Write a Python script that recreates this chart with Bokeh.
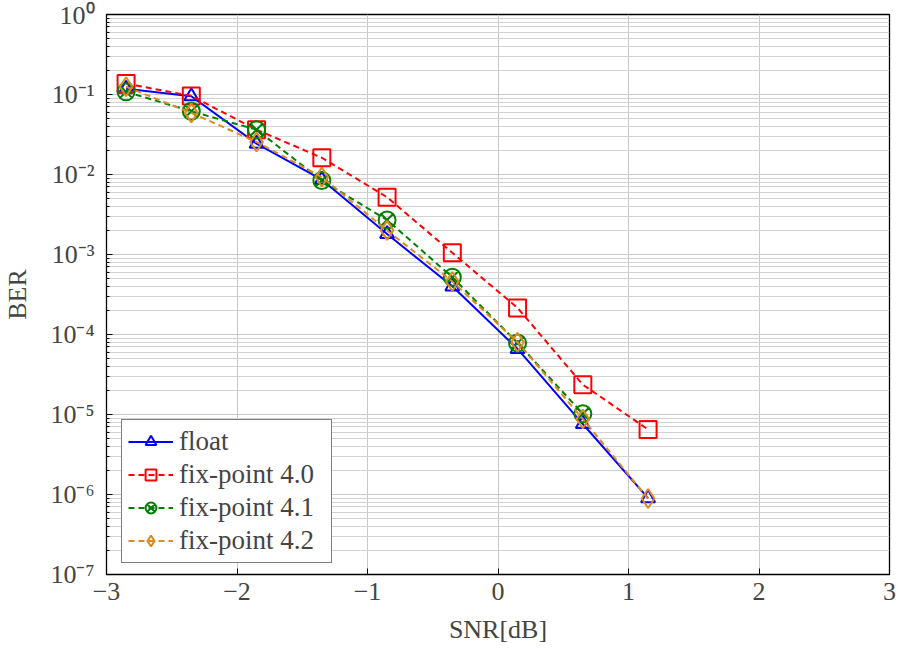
from bokeh.plotting import figure
from bokeh.models import Range1d, FixedTicker, Legend, LegendItem
from bokeh.embed import file_html
from bokeh.resources import INLINE

snr = [-2.85, -2.35, -1.85, -1.35, -0.85, -0.35, 0.15, 0.65, 1.15]
ber_float = [0.118, 0.095, 0.0243, 0.0086, 0.0018, 4.0e-4, 6.6e-5, 7.6e-6, 9.0e-7]
ber_fix40 = [0.137, 0.096, 0.0363, 0.0162, 0.0052, 1.05e-3, 2.15e-4, 2.36e-5, 6.5e-6]
snr_fix41 = [-2.85, -2.35, -1.85, -1.35, -0.85, -0.35, 0.15, 0.65]
ber_fix41 = [0.108, 0.0617, 0.0363, 0.0084, 0.0027, 5.2e-4, 7.85e-5, 1.02e-5]
ber_fix42 = [0.125, 0.059, 0.0255, 0.0093, 0.0020, 4.6e-4, 8.0e-5, 8.8e-6, 8.9e-7]

x_ticks = [-3, -2, -1, 0, 1, 2, 3]
x_labels = ["\u22123", "\u22122", "\u22121", "0", "1", "2", "3"]
y_exps = [0, -1, -2, -3, -4, -5, -6, -7]
sup = str.maketrans("0123456789-", "\u2070\u00b9\u00b2\u00b3\u2074\u2075\u2076\u2077\u2078\u2079\u207b")

FONT = "Liberation Serif"
FS = "26px"

y_ticks = [10.0 ** e for e in y_exps]
y_minor = [k * 10.0 ** e for e in range(-7, 0) for k in range(2, 10)]
y_labels = {10.0 ** e: "10" + str(e).translate(sup) for e in y_exps}

p = figure(width=897, height=647, output_backend="svg", toolbar_location=None,
           y_axis_type="log", x_range=Range1d(-3, 3), y_range=Range1d(1e-7, 1),
           min_border_left=104, min_border_right=8, min_border_top=14, min_border_bottom=73)
p.outline_line_color = "black"
p.outline_line_width = 1.3

xt = FixedTicker(ticks=x_ticks, minor_ticks=[])
yt = FixedTicker(ticks=y_ticks, minor_ticks=y_minor)

xa = p.xaxis[0]
ya = p.yaxis[0]
xa.ticker = xt
ya.ticker = yt
xa.major_label_overrides = {t: l for t, l in zip(x_ticks, x_labels)}
ya.major_label_overrides = y_labels
for ax in (xa, ya):
    ax.major_label_text_font = FONT
    ax.major_label_text_font_size = FS
    ax.axis_label_text_font = FONT
    ax.axis_label_text_font_size = FS
    ax.axis_label_text_font_style = "normal"
    ax.major_tick_in = 6
    ax.major_tick_out = 0
    ax.minor_tick_in = 3
    ax.minor_tick_out = 0
    ax.axis_line_color = None
    ax.major_tick_line_color = "black"
    ax.minor_tick_line_color = "black"
xa.axis_label = "SNR[dB]"
ya.axis_label = "BER"
xa.major_label_standoff = 8
ya.major_label_standoff = 12
xa.axis_label_standoff = 12
ya.axis_label_standoff = 15

p.xgrid.grid_line_color = "#c8c8c8"
p.ygrid.grid_line_color = "#c8c8c8"
p.ygrid.minor_grid_line_color = "#d2d2d2"

BLUE, RED, GREEN, ORANGE = "#0000ff", "#ff0000", "#008000", "#dc8a1e"

l1 = p.line(snr, ber_float, line_color=BLUE, line_width=2)
m1 = p.scatter(snr, ber_float, marker="triangle", size=14, line_color=BLUE, fill_color=None, line_width=2)
l2 = p.line(snr, ber_fix40, line_color=RED, line_width=2, line_dash="6 4")
m2 = p.scatter(snr, ber_fix40, marker="square", size=17, line_color=RED, fill_color=None, line_width=2)
l3 = p.line(snr_fix41, ber_fix41, line_color=GREEN, line_width=2, line_dash="6 4")
m3 = p.scatter(snr_fix41, ber_fix41, marker="circle_x", size=17, line_color=GREEN, fill_color=None, line_width=2)
l4 = p.line(snr, ber_fix42, line_color=ORANGE, line_width=2, line_dash="6 4")
m4 = p.scatter(snr, ber_fix42, marker="diamond", size=19, line_color=ORANGE, fill_color=None, line_width=2)

legend = Legend(items=[
    LegendItem(label="float", renderers=[l1, m1]),
    LegendItem(label="fix-point 4.0", renderers=[l2, m2]),
    LegendItem(label="fix-point 4.1", renderers=[l3, m3]),
    LegendItem(label="fix-point 4.2", renderers=[l4, m4]),
], location=(15, 11))
legend.label_text_font = FONT
legend.label_text_font_size = "27px"
legend.border_line_color = "black"
legend.border_line_width = 1.3
legend.background_fill_alpha = 1
legend.glyph_width = 45
legend.glyph_height = 27
legend.label_height = 27
legend.label_width = 146
legend.label_standoff = 6
legend.spacing = 2
legend.padding = 6
legend.margin = 0
p.add_layout(legend, "center")

open("out.html", "w").write(file_html(p, INLINE))
